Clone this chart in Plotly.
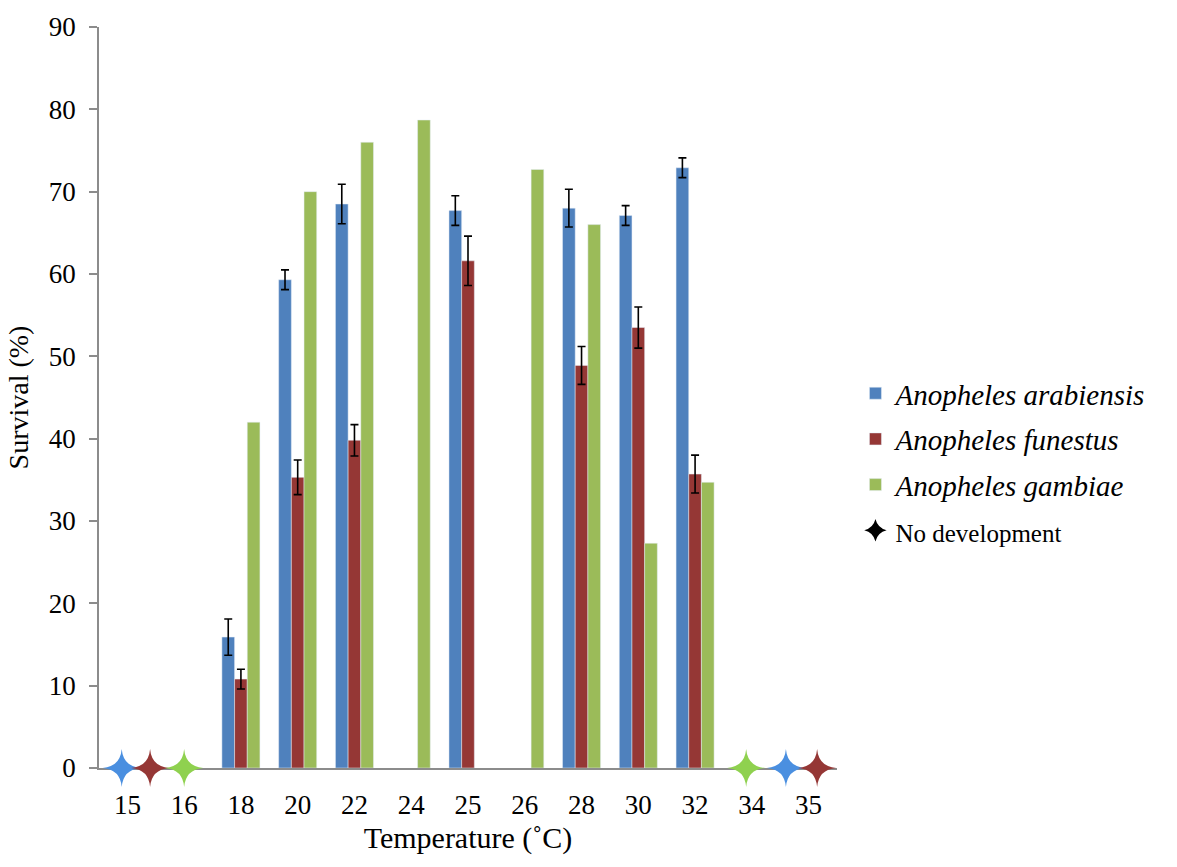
import plotly.graph_objects as go

# Survival of Anopheles species across rearing temperatures
temps = ["15", "16", "18", "20", "22", "24", "25", "26", "28", "30", "32", "34", "35"]

arabiensis = [None, None, 15.9, 59.3, 68.5, None, 67.7, None, 68.0, 67.1, 72.9, None, None]
arabiensis_err = [None, None, 2.2, 1.2, 2.4, None, 1.8, None, 2.3, 1.2, 1.2, None, None]

funestus = [None, None, 10.8, 35.3, 39.8, None, 61.6, None, 48.9, 53.5, 35.7, None, None]
funestus_err = [None, None, 1.2, 2.1, 1.9, None, 3.0, None, 2.3, 2.5, 2.3, None, None]

gambiae = [None, None, 42.0, 70.0, 76.0, 78.7, None, 72.7, 66.0, 27.3, 34.7, None, None]

# temperatures at which no development occurred, per species
no_dev_arabiensis = ["15", "35"]
no_dev_funestus = ["15", "35"]
no_dev_gambiae = ["16", "34"]

FONT = "Liberation Serif"
BAR_COLORS = {"arabiensis": "#4f81bd", "funestus": "#953735", "gambiae": "#9bbb59"}
STAR_COLORS = {"arabiensis": "#4a8fe0", "funestus": "#953735", "gambiae": "#8fd14f"}
# horizontal nudges of the stars so that neighbours do not overlap
STAR_SHIFT = {
    ("arabiensis", "15"): -0.1, ("funestus", "15"): 0.4,
    ("gambiae", "16"): 0.0, ("gambiae", "34"): -0.1,
    ("arabiensis", "35"): -0.4, ("funestus", "35"): 0.15,
}


def star_path(arm=19.0, pinch=1.5):
    """Thin four-pointed star, in pixels around its anchor."""
    a, c = arm, pinch
    return (f"M {a},0 Q {c},{c} 0,{a} Q {-c},{c} {-a},0 "
            f"Q {-c},{-c} 0,{-a} Q {c},{-c} {a},0 Z")


xpos = list(range(len(temps)))

fig = go.Figure()


def err(vals):
    return dict(type="data", array=vals, visible=True, color="black",
                thickness=1.6, width=4)


fig.add_trace(go.Bar(
    x=xpos, y=arabiensis, name="<i>Anopheles arabiensis</i>",
    marker=dict(color=BAR_COLORS["arabiensis"]), error_y=err(arabiensis_err),
    legendgroup="a",
))
fig.add_trace(go.Bar(
    x=xpos, y=funestus, name="<i>Anopheles funestus</i>",
    marker=dict(color=BAR_COLORS["funestus"]), error_y=err(funestus_err),
    legendgroup="f",
))
fig.add_trace(go.Bar(
    x=xpos, y=gambiae, name="<i>Anopheles gambiae</i>",
    marker=dict(color=BAR_COLORS["gambiae"]),
    legendgroup="g",
))

# "no development" stars sitting on the baseline (bottom of the plot area,
# which is survival = 0); only clipped horizontally so they overhang the axis
for key, lst in (("arabiensis", no_dev_arabiensis),
                 ("funestus", no_dev_funestus),
                 ("gambiae", no_dev_gambiae)):
    for t in lst:
        fig.add_shape(
            type="path", path=star_path(),
            xref="x", yref="paper",
            xsizemode="pixel", ysizemode="pixel",
            xanchor=temps.index(t) + STAR_SHIFT[(key, t)], yanchor=0,
            fillcolor=STAR_COLORS[key], line=dict(width=0),
            layer="above",
        )

# legend entry for the "no development" symbol
fig.add_trace(go.Scatter(
    x=[None], y=[None], mode="markers",
    name="<span style='font-size:25px'>No development</span>",
    marker=dict(symbol="star-diamond", size=22, color="black"),
    legendgroup="n",
))

fig.update_layout(
    width=1177, height=867,
    paper_bgcolor="white", plot_bgcolor="white",
    margin=dict(l=99, r=340, t=21, b=99),
    font=dict(family=FONT, size=26, color="black"),
    barmode="group", bargap=0.33, bargroupgap=0,
    showlegend=True,
    legend=dict(
        x=1.025, y=0.54, xanchor="left", yanchor="top",
        font=dict(family=FONT, size=29, color="black"),
        tracegroupgap=5, itemsizing="trace",
        bgcolor="rgba(0,0,0,0)",
    ),
    xaxis=dict(
        range=[-0.5, len(temps) - 0.5],
        tickmode="array", tickvals=xpos, ticktext=temps,
        showline=True, linecolor="#8c8c8c", linewidth=1.5,
        showgrid=False, zeroline=False, ticks="",
        ticklabelstandoff=12,
        tickfont=dict(family=FONT, size=27),
        title=dict(text="Temperature (˚C)", font=dict(family=FONT, size=30),
                   standoff=8),
        layer="below traces",
    ),
    yaxis=dict(
        range=[0, 90], dtick=10, tick0=0,
        showline=True, linecolor="#8c8c8c", linewidth=1.5,
        showgrid=False, zeroline=False,
        ticks="outside", ticklen=8, tickwidth=1.5, tickcolor="#8c8c8c",
        ticklabelstandoff=8,
        tickfont=dict(family=FONT, size=27),
        title=dict(text="Survival (%)", font=dict(family=FONT, size=28),
                   standoff=12),
        layer="below traces",
    ),
)

fig.write_html("out.html")
